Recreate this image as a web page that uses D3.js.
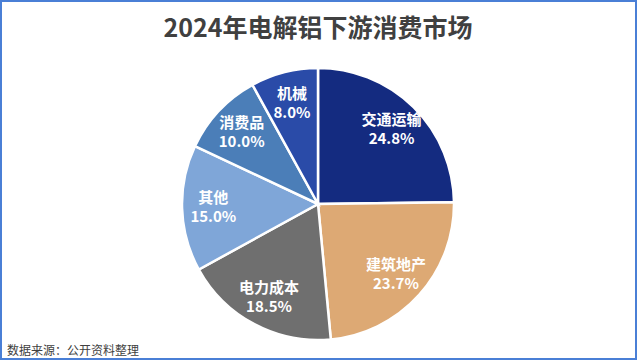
<!DOCTYPE html>
<html>
<head>
<meta charset="utf-8">
<script src="https://cdn.jsdelivr.net/npm/d3@7"></script>
<style>
  body { margin: 0; background: #fff; }
  svg { display: block; font-family: "Noto Sans CJK SC", "Noto Sans", sans-serif; }
</style>
</head>
<body>
<div id="chart"></div>
<script>
// data
var categories = ["交通运输", "建筑地产", "电力成本", "其他", "消费品", "机械"];
var shares = [24.8, 23.7, 18.5, 15.0, 10.0, 8.0];
var colors = ["#142b80", "#dda974", "#6f6f6f", "#7fa6d8", "#4b7eb8", "#2a4ba8"];

var svgWidth = 638;
var svgHeight = 361;
var cx = 318, cy = 204, radius = 136;

var svg = d3.select("#chart")
  .append("svg")
  .attr("width", svgWidth)
  .attr("height", svgHeight);

// frame
svg.append("rect")
  .attr("x", 1).attr("y", 1)
  .attr("width", svgWidth - 3).attr("height", svgHeight - 3)
  .attr("fill", "#fff")
  .attr("stroke", "#4a7fd6")
  .attr("stroke-width", 2);

// title
svg.append("text")
  .attr("x", 318)
  .attr("y", 37)
  .attr("text-anchor", "middle")
  .attr("font-size", 25)
  .attr("font-weight", "bold")
  .attr("fill", "#404040")
  .text("2024年电解铝下游消费市场");

var table = categories.map(function(c, i) {
  return {name: c, value: shares[i], color: colors[i]};
});

var pie = d3.pie()
  .sort(null)
  .value(d => d.value);

var arc = d3.arc()
  .innerRadius(0)
  .outerRadius(radius);

var labelArc = d3.arc()
  .innerRadius(radius * 0.77)
  .outerRadius(radius * 0.77);

var chart = svg.append("g")
  .attr("transform", `translate(${cx}, ${cy})`);

var slices = pie(table);

chart.selectAll("path")
  .data(slices)
  .enter()
  .append("path")
  .attr("d", arc)
  .attr("fill", d => d.data.color)
  .attr("stroke", "#fff")
  .attr("stroke-width", 2.5);

var labels = chart.selectAll("g.label")
  .data(slices)
  .enter()
  .append("g")
  .attr("class", "label")
  .attr("transform", d => `translate(${labelArc.centroid(d)})`);

labels.append("text")
  .attr("y", -4)
  .attr("text-anchor", "middle")
  .attr("font-size", 15)
  .attr("font-weight", "bold")
  .attr("fill", "#fff")
  .text(d => d.data.name);

labels.append("text")
  .attr("y", 15)
  .attr("text-anchor", "middle")
  .attr("font-size", 15)
  .attr("font-weight", "bold")
  .attr("fill", "#fff")
  .text(d => d.data.value.toFixed(1) + "%");

// source note
svg.append("text")
  .attr("x", 7)
  .attr("y", 355)
  .attr("font-size", 12)
  .attr("fill", "#404040")
  .text("数据来源：公开资料整理");
</script>
</body>
</html>
